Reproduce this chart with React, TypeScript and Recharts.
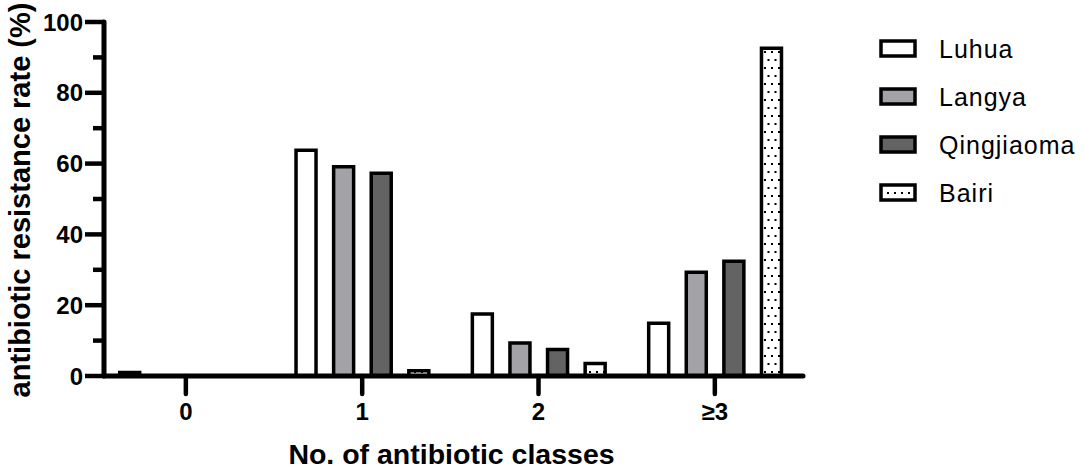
import { BarChart, Bar, XAxis, YAxis, Legend } from "recharts";

const categories = ["0", "1", "2", "≥3"];
const luhua = [1, 63.8, 17.5, 14.9];
const langya = [0, 59.1, 9.3, 29.3];
const qingjiaoma = [0, 57.3, 7.5, 32.4];
const bairi = [0, 1.5, 3.5, 92.6];
const yTicks = [0, 10, 20, 30, 40, 50, 60, 70, 80, 90, 100];

const seriesKeys = ["luhua", "langya", "qingjiaoma", "bairi"];
const seriesNames = ["Luhua", "Langya", "Qingjiaoma", "Bairi"];
const seriesFills = ["#ffffff", "#a3a3a7", "#636363", "url(#dots)"];

const data = categories.map((c, i) => ({
	cat: c,
	luhua: luhua[i],
	langya: langya[i],
	qingjiaoma: qingjiaoma[i],
	bairi: bairi[i],
}));

const FONT = "'Liberation Sans', Arial, sans-serif";

type TickProps = {
	x: number;
	y: number;
	payload: { value: string | number };
	[arg: string]: unknown;
};

const renderYTick = ({ x, y, payload }: TickProps) => {
	const major = Number(payload.value) % 20 === 0;
	return (
		<g>
			<line x1={x - (major ? 19 : 11)} x2={x} y1={y} y2={y} stroke="#000" strokeWidth={4.5} />
			{major && (
				<text
					x={x - 21}
					y={y}
					dy="0.36em"
					textAnchor="end"
					fontFamily={FONT}
					fontWeight="bold"
					fontSize={24}
					fill="#000"
				>
					{payload.value}
				</text>
			)}
		</g>
	);
};

const renderXTick = ({ x, y, payload }: TickProps) => {
	return (
		<g>
			<line x1={x} x2={x} y1={y} y2={y + 18} stroke="#000" strokeWidth={4.5} strokeLinecap="round" />
			<text
				x={x}
				y={y + 44}
				textAnchor="middle"
				fontFamily={FONT}
				fontWeight="bold"
				fontSize={24}
				fill="#000"
			>
				{payload.value}
			</text>
		</g>
	);
};

// eslint-disable-next-line @typescript-eslint/no-explicit-any
const renderYLabel = (props: any) => {
	const vb = props.viewBox;
	const cx = vb.x + 20;
	const cy = vb.y + vb.height / 2 + 1;
	return (
		<text
			x={cx}
			y={cy}
			transform={`rotate(-90, ${cx}, ${cy})`}
			textAnchor="middle"
			dominantBaseline="central"
			fontFamily={FONT}
			fontWeight="bold"
			fontSize={29}
			fill="#000"
		>
			antibiotic resistance rate (%)
		</text>
	);
};

// eslint-disable-next-line @typescript-eslint/no-explicit-any
const renderXLabel = (props: any) => {
	const vb = props.viewBox;
	return (
		<text
			x={vb.x + vb.width / 2 - 2}
			y={vb.y + 88}
			textAnchor="middle"
			fontFamily={FONT}
			fontWeight="bold"
			fontSize={28.5}
			fill="#000"
		>
			No. of antibiotic classes
		</text>
	);
};

const renderLegend = () => (
	<div style={{ fontFamily: FONT, color: "#000" }}>
		{seriesNames.map((name, i) => (
			<div key={name} style={{ display: "flex", alignItems: "center", height: 48 }}>
				<svg width={40} height={21}>
					<defs>
						<pattern id={`ldots${i}`} width={7} height={16} patternUnits="userSpaceOnUse">
							<rect x={1} y={9} width={2} height={2} fill="#000" />
						</pattern>
					</defs>
					<rect
						x={2}
						y={2}
						width={34}
						height={15}
						fill={i === 3 ? `url(#ldots${i})` : seriesFills[i]}
						stroke="#000"
						strokeWidth={3.5}
					/>
				</svg>
				<span style={{ marginLeft: 20, fontSize: 25, letterSpacing: 1, lineHeight: "28px" }}>{name}</span>
			</div>
		))}
	</div>
);

export default function App() {
	return (
		<div style={{ position: "absolute", left: 0, top: 0, background: "#fff" }}>
			<BarChart
				width={1084}
				height={470}
				data={data}
				barGap={17.6}
				margin={{ top: 22, right: 281, bottom: 34, left: 0 }}
			>
				<defs>
					<pattern id="dots" width={7} height={16} patternUnits="userSpaceOnUse">
						<rect x={1} y={3} width={2} height={2} fill="#000" />
						<rect x={4.5} y={11} width={2} height={2} fill="#000" />
					</pattern>
				</defs>
				<XAxis
					dataKey="cat"
					interval={0}
					height={60}
					padding={{ left: -6.3, right: 0 }}
					axisLine={{ stroke: "#000", strokeWidth: 5, strokeLinecap: "round" }}
					tickLine={false}
					tickSize={0}
					tickMargin={0}
					tick={renderXTick}
					label={renderXLabel}
				/>
				<YAxis
					type="number"
					domain={[0, 100]}
					ticks={yTicks}
					interval={0}
					width={104}
					axisLine={{ stroke: "#000", strokeWidth: 5, strokeLinecap: "round" }}
					tickLine={false}
					tickSize={0}
					tickMargin={0}
					tick={renderYTick}
					label={renderYLabel}
				/>
				<Legend
					layout="vertical"
					align="center"
					verticalAlign="middle"
					wrapperStyle={{ left: 879, top: 25, width: 205 }}
					content={renderLegend}
				/>
				{seriesKeys.map((k, i) => (
					<Bar
						key={k}
						dataKey={k}
						name={seriesNames[i]}
						fill={seriesFills[i]}
						stroke="#000"
						strokeWidth={3.5}
						barSize={20}
						isAnimationActive={false}
					/>
				))}
			</BarChart>
		</div>
	);
}
